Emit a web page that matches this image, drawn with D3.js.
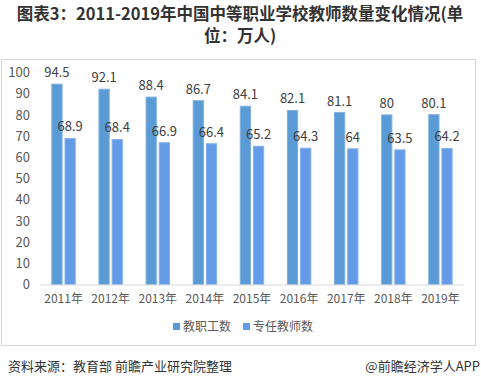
<!DOCTYPE html>
<html>
<head>
<meta charset="utf-8">
<script src="https://cdn.jsdelivr.net/npm/d3@7"></script>
<style>
  body { margin: 0; background: #fff; }
  text { font-family: "Microsoft YaHei", "Noto Sans CJK SC", sans-serif; }
</style>
</head>
<body>
<div id="chart"></div>
<script>
// categories and series
var years = ["2011年", "2012年", "2013年", "2014年", "2015年", "2016年", "2017年", "2018年", "2019年"];
var staff = [94.5, 92.1, 88.4, 86.7, 84.1, 82.1, 81.1, 80, 80.1];
var teachers = [68.9, 68.4, 66.9, 66.4, 65.2, 64.3, 64, 63.5, 64.2];
var seriesNames = ["教职工数", "专任教师数"];
var yTicks = [0, 10, 20, 30, 40, 50, 60, 70, 80, 90, 100];

var colors = ["#5b9bd5", "#649be6"];
var strokes = ["#7fb0e0", "#85b1ee"];

var width = 481, height = 387;

var svg = d3.select("#chart").append("svg")
    .attr("width", width)
    .attr("height", height);

// Title
svg.append("text")
    .attr("x", 240).attr("y", 20)
    .attr("text-anchor", "middle")
    .attr("font-size", 16.5).attr("font-weight", "bold").attr("fill", "#333")
    .text("图表3：2011-2019年中国中等职业学校教师数量变化情况(单");
svg.append("text")
    .attr("x", 240).attr("y", 42)
    .attr("text-anchor", "middle")
    .attr("font-size", 16.5).attr("font-weight", "bold").attr("fill", "#333")
    .text("位：万人)");

// Chart box
svg.append("rect")
    .attr("x", 1.5).attr("y", 59.5)
    .attr("width", 474).attr("height", 286)
    .attr("fill", "none").attr("stroke", "#d6d6d6");

// Scales
var xScale = d3.scaleBand()
    .domain(years)
    .range([40, 464]);

var yScale = d3.scaleLinear()
    .domain([0, 100])
    .range([284.5, 72.5]);

var inner = d3.scaleBand()
    .domain([0, 1])
    .range([0, xScale.bandwidth()])
    .paddingInner(0.22)
    .paddingOuter(0.9);

// Y axis labels
var yAxis = d3.axisLeft(yScale).tickValues(yTicks).tickSize(0).tickPadding(0);
var gy = svg.append("g")
    .attr("transform", "translate(30,0)")
    .call(yAxis);
gy.select(".domain").remove();
gy.selectAll("text")
    .attr("font-size", 13).attr("fill", "#595959")
    .attr("font-family", "Microsoft YaHei, Noto Sans CJK SC, sans-serif");

// Bars
var data = [staff, teachers];
data.forEach(function (series, s) {
    svg.append("g").selectAll("rect")
        .data(series)
        .enter().append("rect")
        .attr("x", function (d, i) { return xScale(years[i]) + inner(s); })
        .attr("y", function (d) { return yScale(d); })
        .attr("width", inner.bandwidth())
        .attr("height", function (d) { return yScale(0) - yScale(d); })
        .attr("fill", colors[s])
        .attr("stroke", strokes[s])
        .attr("stroke-width", 1);

    svg.append("g").selectAll("text")
        .data(series)
        .enter().append("text")
        .attr("x", function (d, i) { return xScale(years[i]) + inner(s) + inner.bandwidth() / 2; })
        .attr("y", function (d) { return yScale(d) - 7; })
        .attr("text-anchor", "middle")
        .attr("font-size", 13).attr("fill", "#404040")
        .text(function (d) { return d; });
});

// X axis
var xAxis = d3.axisBottom(xScale).tickSize(0).tickPadding(10);
var gx = svg.append("g")
    .attr("transform", "translate(0," + yScale(0) + ")")
    .call(xAxis);
gx.select(".domain").attr("stroke", "#d9d9d9");
gx.selectAll("text")
    .attr("font-size", 12).attr("fill", "#595959")
    .attr("font-family", "Microsoft YaHei, Noto Sans CJK SC, sans-serif");

// Legend
var legendX = [173, 243];
seriesNames.forEach(function (name, s) {
    svg.append("rect")
        .attr("x", legendX[s]).attr("y", 323)
        .attr("width", 7).attr("height", 7)
        .attr("fill", colors[s]);
    svg.append("text")
        .attr("x", legendX[s] + 10).attr("y", 331)
        .attr("font-size", 12).attr("fill", "#595959")
        .text(name);
});

// Footer
svg.append("text")
    .attr("x", 8).attr("y", 371)
    .attr("font-size", 13).attr("fill", "#333")
    .text("资料来源：教育部 前瞻产业研究院整理");
svg.append("text")
    .attr("x", 480).attr("y", 371)
    .attr("text-anchor", "end")
    .attr("font-size", 13).attr("fill", "#333")
    .text("@前瞻经济学人APP");
</script>
</body>
</html>
